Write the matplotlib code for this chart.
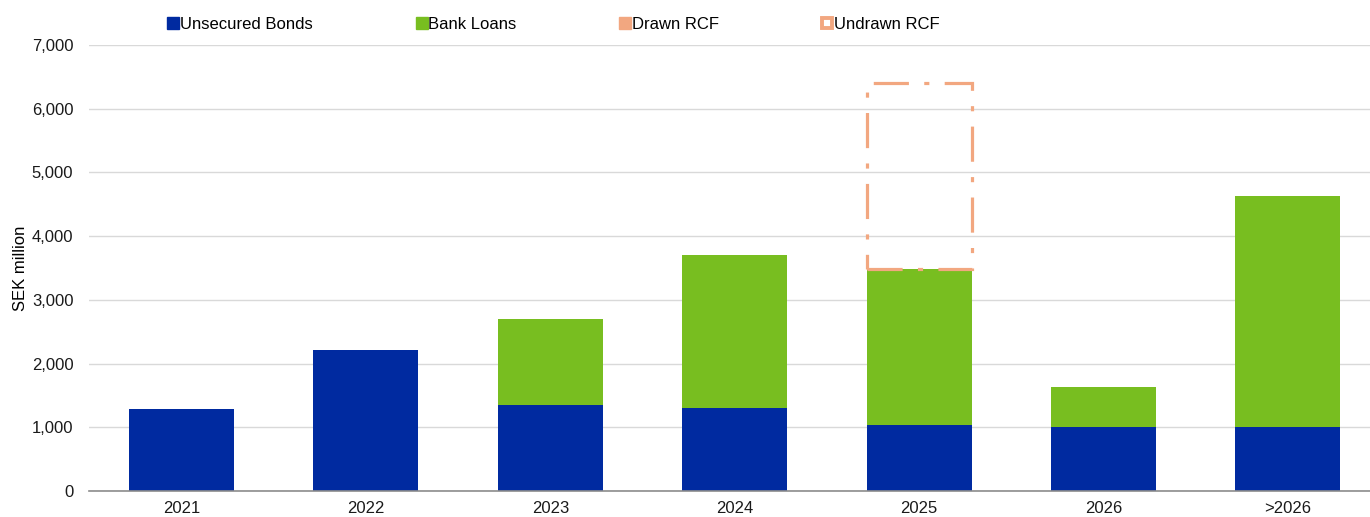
import matplotlib.pyplot as plt
from matplotlib.lines import Line2D
import numpy as np

plt.rcParams['font.family'] = ['Liberation Sans', 'DejaVu Sans']

years = ['2021', '2022', '2023', '2024', '2025', '2026', '>2026']
unsecured_bonds = [1290, 2215, 1350, 1300, 1040, 1000, 1000]
bank_loans = [0, 0, 1350, 2400, 2445, 635, 3635]
drawn_rcf = [0, 0, 0, 0, 0, 0, 0]
undrawn_rcf = [0, 0, 0, 0, 2920, 0, 0]

c_bonds = '#002AA0'
c_loans = '#78BE20'
c_rcf = '#F2A780'

fig = plt.figure(figsize=(13.7, 5.17), dpi=100)
ax = fig.add_axes([0.0652, 0.0503, 0.9348, 0.8627])

x = np.arange(len(years))
w = 0.57
bonds = np.array(unsecured_bonds)
loans = np.array(bank_loans)
drawn = np.array(drawn_rcf)
undrawn = np.array(undrawn_rcf)

ax.bar(x, bonds, w, color=c_bonds, zorder=2)
ax.bar(x, loans, w, bottom=bonds, color=c_loans, zorder=2)
ax.bar(x, drawn, w, bottom=bonds + loans, color=c_rcf, zorder=2)
mask = undrawn > 0
ax.bar(x[mask], undrawn[mask], w, bottom=(bonds + loans + drawn)[mask],
       fill=False, edgecolor=c_rcf, linewidth=2.3,
       linestyle=(0, (11, 4.8, 1.6, 4.8)), zorder=3)

ax.set_xlim(-0.5, 6.445)
ax.set_ylim(0, 7000)
ax.set_yticks(np.arange(0, 7001, 1000))
ax.set_yticklabels([f'{v:,}' for v in range(0, 7001, 1000)])
ax.set_xticks(x)
ax.set_xticklabels(years)
ax.tick_params(axis='both', length=0, labelsize=12, colors='#1a1a1a')
ax.tick_params(axis='y', pad=11.5)
ax.tick_params(axis='x', pad=7)
ax.grid(axis='y', color='#d9d9d9', linewidth=1, zorder=0)
ax.set_axisbelow(True)
for s in ['top', 'right', 'left']:
    ax.spines[s].set_visible(False)
ax.spines['bottom'].set_color('#8c8c8c')
ax.spines['bottom'].set_linewidth(1.2)
ax.set_ylabel('SEK million', fontsize=12, labelpad=3)

handles = [
    Line2D([], [], marker='s', linestyle='none', color=c_bonds, markersize=8.5),
    Line2D([], [], marker='s', linestyle='none', color=c_loans, markersize=8.5),
    Line2D([], [], marker='s', linestyle='none', color=c_rcf, markersize=8.5),
    Line2D([], [], marker='s', linestyle='none', markerfacecolor='white',
           markeredgecolor=c_rcf, markeredgewidth=2.8, markersize=7.5),
]
labels = ['Unsecured Bonds', 'Bank Loans', 'Drawn RCF', 'Undrawn RCF']
fig.legend(handles, labels, loc='center left', bbox_to_anchor=(0.112, 0.953),
           ncol=4, frameon=False, fontsize=12, handlelength=0.6,
           handletextpad=0.1, columnspacing=6.22)

fig.savefig('out.png', dpi=100)
